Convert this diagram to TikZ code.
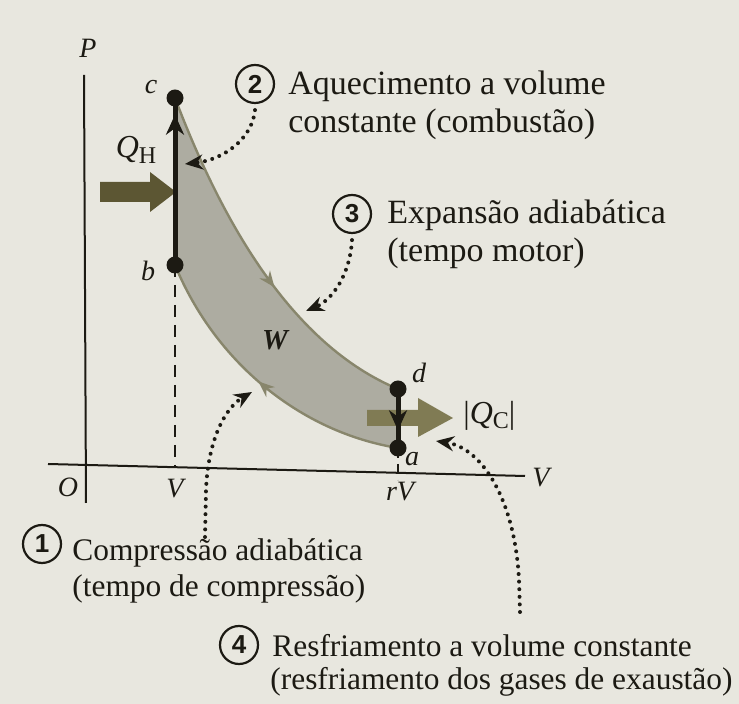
\documentclass[tikz,border=0pt]{standalone}
\usepackage{fontspec}
\setmainfont{Liberation Serif}
\newfontfamily\numfont{Liberation Sans}
\usetikzlibrary{arrows.meta,calc,decorations.markings}
\pgfdeclarelayer{bglayer}
\pgfdeclarelayer{midlayer}
\pgfsetlayers{bglayer,midlayer,main}
\definecolor{bg}{HTML}{E8E7DF}
\definecolor{ink}{HTML}{1C1A13}
\definecolor{bandfill}{HTML}{ADACA1}
\definecolor{bandedge}{HTML}{88866C}
\definecolor{qhcol}{HTML}{5C5633}
\definecolor{qccol}{HTML}{807B54}
\begin{document}
\begin{tikzpicture}[x=0.5pt,y=-0.5pt,
  txt/.style={anchor=base west, text=ink, inner sep=0pt, font=\fontsize{17}{19}\selectfont},
  txtb/.style={anchor=base west, text=ink, inner sep=0pt, font=\fontsize{15.7}{17}\selectfont},
  lab/.style={text=ink, inner sep=0pt, font=\fontsize{14}{14}\selectfont\itshape},
  qlab/.style={text=ink, inner sep=0pt, font=\fontsize{16}{16}\selectfont},
  circ/.style={draw=ink, circle, line width=1.1pt, minimum size=19pt, inner sep=0pt, text=ink,
    font=\numfont\bfseries\fontsize{13}{13}\selectfont},
  dotpt/.style={circle, fill=ink, minimum size=8.5pt, inner sep=0pt},
  axis/.style={draw=ink, line width=1pt},
  dashedline/.style={draw=ink, line width=1pt, dash pattern=on 6pt off 4pt},
  thickline/.style={draw=ink, line width=2.5pt},
  dotarrow/.style={draw=ink, line width=2pt, line cap=round, dash pattern=on 0pt off 3.8pt,
    -{Stealth[length=9pt,width=7.5pt]}},
  bandline/.style={draw=bandedge, line width=1.2pt}
]
\useasboundingbox (0,0) rectangle (739,704);
\begin{pgfonlayer}{bglayer}
\fill[bg] (0,0) rectangle (739,704);
\end{pgfonlayer}

% state points (drawn on top)
\node[dotpt] (c) at (175,98) {};
\node[dotpt] (b) at (175,265) {};
\node[dotpt] (d) at (398,389) {};
\node[dotpt] (a) at (398,448) {};

% axes
\coordinate (pTop) at (84,75);
\coordinate (pBot) at (86,503);
\coordinate (vL) at (48,464);
\coordinate (vR) at (525,476);
\begin{pgfonlayer}{bglayer}
\draw[axis] (pTop) -- (pBot);
\draw[axis] (vL) -- (vR);
\end{pgfonlayer}
\node[lab] (lP) at (88,48) {P};
\node[lab] (lVax) at (541,478) {V};
\node[lab] (lO) at (68,487) {O};
\node[lab] (lV) at (175,489) {V};
\node[lab] (lrV) at (400,492) {rV};

% dashed verticals
\coordinate (bAx) at (175,468);
\coordinate (aAx) at (398,480);
\begin{pgfonlayer}{bglayer}
\draw[dashedline] (b.center) -- (bAx);
\draw[dashedline, dash pattern=on 5pt off 3pt] (a.center) -- (aAx);

% work band
\fill[bandfill] (c.center) .. controls (222,222) and (292,345) .. (d.center) -- (a.center)
  .. controls (300,432) and (215,362) .. (b.center) -- cycle;
\draw[bandline, postaction={decorate},
  decoration={markings, mark=at position 0.57 with {\arrow[bandedge]{Stealth[length=8pt,width=6.5pt]}}}]
  (c.center) .. controls (222,222) and (292,345) .. (d.center);
\draw[bandline, postaction={decorate},
  decoration={markings, mark=at position 0.52 with {\arrow[bandedge]{Stealth[length=8pt,width=6.5pt]}}}]
  (a.center) .. controls (300,432) and (215,362) .. (b.center);

% heat arrows
\fill[qhcol] (100,182) -- (150,182) -- (150,172) -- (176,192) -- (150,212) -- (150,202) -- (100,202) -- cycle;
\fill[qccol] (367,410) -- (418,410) -- (418,398) -- (453,418) -- (418,437) -- (418,426) -- (367,426) -- cycle;
\end{pgfonlayer}
\node[lab, font=\fontsize{14.5}{14}\selectfont\itshape\bfseries] (lW) at (275,340) {W};

% process lines
\begin{pgfonlayer}{midlayer}
\draw[thickline] (b.center) -- (c.center);
\draw[thickline, -{Stealth[length=10pt,width=9pt]}] (b.center) -- ($(b.center)!0.9!(c.center)$);
\draw[thickline, -{Stealth[length=10pt,width=9pt]}] (d.center) -- ($(d.center)!0.7!(a.center)$);
\draw[thickline] (d.center) -- (a.center);
\end{pgfonlayer}

% point labels
\node[lab] (lc) at (151,87) {c};
\node[lab] (lb) at (148,271) {b};
\node[lab] (ld) at (419,373) {d};
\node[lab] (la) at (412,459) {a};
\node[qlab] (lQH) at (136,150)
  {\textit{Q}\raisebox{-0.35ex}{\fontsize{12}{12}\selectfont H}};
\node[qlab, anchor=west] (lQC) at (463,416)
  {|\textit{Q}\raisebox{-0.35ex}{\fontsize{12}{12}\selectfont C}|};

% callout 2
\node[circ] (n2) at (255,84) {2};
\node[txt] (t2a) at (288,95) {Aquecimento a volume};
\node[txt] (t2b) at (288,133) {constante (combustão)};
\coordinate (e2) at (185,164);
\draw[dotarrow] (n2.south) ++(0,6) .. controls (252,140) and (222,160) .. (e2);

% callout 3
\node[circ] (n3) at (352,214) {3};
\node[txt] (t3a) at (387,224) {Expansão adiabática};
\node[txt] (t3b) at (387,262) {(tempo motor)};
\coordinate (e3) at (306,311);
\draw[dotarrow] (n3.south) ++(0,6) .. controls (350,275) and (332,300) .. (e3);

% callout 1
\node[circ] (n1) at (42,544) {1};
\node[txtb] (t1a) at (72,561) {Compressão adiabática};
\node[txtb] (t1b) at (72,597) {(tempo de compressão)};
\coordinate (s1) at (205,537);
\coordinate (e1) at (252,392);
\draw[dotarrow] (s1) -- (206,490) .. controls (208,440) and (225,408) .. (e1);

% callout 4
\node[circ] (n4) at (239,645) {4};
\node[txtb] (t4a) at (272,657) {Resfriamento a volume constante};
\node[txtb] (t4b) at (270,690) {(resfriamento dos gases de exaustão)};
\coordinate (s4) at (520,612);
\coordinate (e4) at (436,441);
\draw[dotarrow] (s4) -- (519,580) .. controls (515,500) and (482,448) .. (e4);
\end{tikzpicture}
\end{document}
